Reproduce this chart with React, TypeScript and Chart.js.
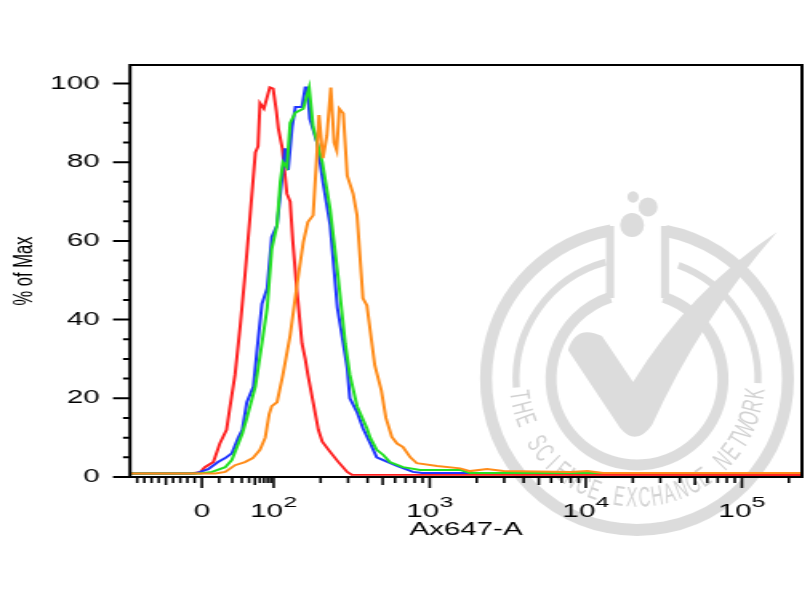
import { useEffect, useRef } from "react";
import { Chart, registerables } from "chart.js";
import type { Plugin } from "chart.js";

Chart.register(...registerables);

// The exported plot is stretched sideways: draw on a narrow canvas and let CSS widen it
const CANVAS_W = 506;
const CANVAS_H = 610;
const STRETCH = 810 / CANVAS_W;

// Logicle-like display transform of the Ax647-A axis (histogram is binned in 1024 channels)
const LIN_DECADES = 0.46; // width of the 0..100 segment, in decades
const LOG_DECADES = 3.385; // decades shown above 100
const ASINH_C = 15;
const CHANNELS = 1024;

function logicle(v: number) {
  if (v < 0) return (LIN_DECADES * v) / 100;
  if (v <= 100) return (LIN_DECADES * Math.asinh(v / ASINH_C)) / Math.asinh(100 / ASINH_C);
  return LIN_DECADES + Math.log10(v / 100);
}

function toChannel(v: number) {
  return ((logicle(v) + LIN_DECADES) / (2 * LIN_DECADES + LOG_DECADES)) * CHANNELS;
}

// Histogram data: channel position and % of max, one pair of arrays per sample
const redChannel = [0, 91, 107, 114, 127, 137, 147, 152, 160, 168, 175, 183, 191, 195, 198, 204, 213, 218, 223, 226, 232, 239, 244, 248, 254, 262, 267, 271, 279, 287, 293, 305, 317, 331, 338, 1024];
const redPct = [0.9, 0.9, 1.2, 2.5, 3.8, 8.6, 12, 17.5, 26, 38.6, 51, 66.5, 82.5, 84, 95, 93.6, 99, 98.7, 93, 88.6, 83.5, 72, 70, 60, 48, 34, 30, 26, 19, 12, 9, 6.4, 3.9, 1.3, 0.6, 0.5];

const blueChannel = [0, 99, 107, 119, 134, 145, 155, 165, 171, 178, 188, 194, 201, 209, 216, 224, 232, 236, 241, 247, 252, 262, 267, 270, 274, 285, 294, 305, 316, 323, 331, 335, 346, 355, 366, 376, 386, 407, 431, 445, 1024];
const bluePct = [0.9, 0.9, 1.3, 2, 3.8, 4.8, 6, 10, 12, 19, 23, 33, 44, 48, 61, 64, 76.6, 83.5, 78, 89, 94, 94, 99, 99, 91, 85, 75, 64, 43, 36, 27.7, 20, 16.5, 12.4, 8.6, 5, 4.3, 2.8, 1.3, 1, 1];

const greenChannel = [0, 107, 125, 145, 155, 163, 171, 178, 191, 201, 209, 216, 224, 229, 233, 239, 244, 252, 264, 273, 279, 293, 305, 317, 328, 335, 346, 361, 366, 376, 386, 396, 416, 442, 503, 518, 1024];
const greenPct = [0.9, 0.9, 1.3, 2.5, 4.3, 7.6, 11, 15, 23, 34, 43, 58, 64, 75, 80, 78.7, 90, 92.6, 93.6, 99, 89, 80, 68, 51, 34, 26, 18, 12.4, 10, 6.9, 5.6, 3.8, 2.5, 1.8, 1.8, 1, 1];

const orangeChannel = [0, 130, 145, 160, 175, 187, 198, 206, 212, 216, 224, 233, 244, 255, 264, 271, 279, 284, 288, 294, 300, 306, 311, 315, 319, 325, 331, 340, 346, 355, 361, 373, 383, 390, 399, 407, 416, 427, 437, 468, 503, 518, 544, 569, 671, 697, 721, 1024];
const orangePct = [0.9, 0.9, 1.3, 3, 3.8, 4.8, 6.9, 10, 16, 18, 19, 26, 36, 49.5, 59.6, 64.8, 66.5, 80, 92, 81, 86.8, 99, 85, 83, 93.6, 92.4, 76.6, 72, 66.5, 45.4, 43.6, 28.4, 22, 15, 10.2, 8.5, 7.6, 5, 3.5, 2.8, 2.2, 1.5, 2, 1.5, 1.3, 1.5, 1, 1];

// Axis ticks
const xLabelValues = [0, 100, 1000, 10000, 100000];
const xLabelExponents = ["", "2", "3", "4", "5"];
const yMax = 104.7;

const xMinorTicks: number[] = [];
for (let k = 1; k <= 9; k++) xMinorTicks.push(-10 * k, 10 * k);
for (const d of [100, 1000, 10000, 100000]) {
  for (let k = 2; k <= 9; k++) if (d * k < 240000) xMinorTicks.push(d * k);
}

const FONT = '"Liberation Sans", Arial, sans-serif';

function drawWatermark(ctx: CanvasRenderingContext2D) {
  const rad = (d: number) => (d * Math.PI) / 180;
  const cx = 637;
  const cy = 379;
  ctx.save();
  ctx.scale(1 / STRETCH, 1); // logo was stamped on after the stretch, so undo it
  ctx.strokeStyle = "#dcdcdc";
  ctx.fillStyle = "#dcdcdc";

  ctx.lineWidth = 12;
  ctx.beginPath();
  ctx.arc(cx, cy, 151, rad(-79), rad(260));
  ctx.stroke();

  ctx.lineWidth = 11;
  ctx.beginPath();
  ctx.arc(cx, cy, 86, rad(-72), rad(252));
  ctx.stroke();

  ctx.lineWidth = 8;
  ctx.beginPath();
  ctx.moveTo(610, 226);
  ctx.lineTo(610, 298);
  ctx.moveTo(665, 226);
  ctx.lineTo(665, 298);
  ctx.stroke();

  ctx.lineWidth = 7;
  ctx.beginPath();
  ctx.arc(cx, cy, 121, rad(176), rad(255));
  ctx.stroke();
  ctx.beginPath();
  ctx.arc(cx, cy, 121, rad(-70), rad(2));
  ctx.stroke();

  for (const [bx, by, br] of [[632, 225, 12], [648, 207, 9.5], [633, 197, 5.7]]) {
    ctx.beginPath();
    ctx.arc(bx, by, br, 0, Math.PI * 2);
    ctx.fill();
  }

  // check mark
  ctx.beginPath();
  ctx.moveTo(568, 350);
  ctx.quadraticCurveTo(576, 324, 602, 336);
  ctx.lineTo(633, 382);
  ctx.quadraticCurveTo(690, 290, 777, 232);
  ctx.quadraticCurveTo(700, 320, 652, 425);
  ctx.quadraticCurveTo(636, 447, 620, 428);
  ctx.closePath();
  ctx.fill();

  // ring text, tops of the letters toward the centre
  const text = "THE SCIENCE EXCHANGE NETWORK";
  ctx.fillStyle = "#d2d2d2";
  ctx.font = `28px ${FONT}`;
  ctx.textAlign = "center";
  ctx.textBaseline = "middle";
  const start = 172;
  const end = 7;
  for (let i = 0; i < text.length; i++) {
    const th = rad(start - (i * (start - end)) / (text.length - 1));
    ctx.save();
    ctx.translate(cx + 120 * Math.cos(th), cy + 120 * Math.sin(th));
    ctx.rotate(th - Math.PI / 2);
    ctx.scale(0.58, 1);
    ctx.fillText(text[i], 0, 0);
    ctx.restore();
  }
  ctx.restore();
}

const flowAxes: Plugin<"line"> = {
  id: "flowAxes",
  beforeDraw(chart) {
    drawWatermark(chart.ctx);
  },
  afterDraw(chart) {
    const { ctx, chartArea: a } = chart;
    const x = chart.scales.x;
    const y = chart.scales.y;
    ctx.save();
    ctx.strokeStyle = "#000";
    ctx.fillStyle = "#000";

    // frame
    ctx.lineWidth = 2;
    ctx.strokeRect(a.left, a.top, a.right - a.left, a.bottom - a.top);

    // y ticks, pointing outwards
    ctx.beginPath();
    for (const t of y.ticks) {
      const py = y.getPixelForValue(t.value);
      const len = (t.value % 20 === 0 ? 17 : 7) / STRETCH;
      ctx.moveTo(a.left - len, py);
      ctx.lineTo(a.left, py);
    }
    ctx.stroke();

    // x ticks
    ctx.lineWidth = 2.5 / STRETCH;
    ctx.beginPath();
    for (const v of xMinorTicks) {
      const px = x.getPixelForValue(toChannel(v));
      const lead = Math.abs(v) / Math.pow(10, Math.floor(Math.log10(Math.abs(v))));
      const len = Math.round(lead) === 5 ? 8 : 6;
      ctx.moveTo(px, a.bottom);
      ctx.lineTo(px, a.bottom + len);
    }
    for (const v of xLabelValues) {
      const px = x.getPixelForValue(toChannel(v));
      ctx.moveTo(px, a.bottom);
      ctx.lineTo(px, a.bottom + 11);
    }
    ctx.stroke();

    // x labels with superscript exponents
    ctx.textBaseline = "alphabetic";
    ctx.textAlign = "left";
    const baseFont = `18.5px ${FONT}`;
    const supFont = `15.5px ${FONT}`;
    xLabelValues.forEach((v, i) => {
      const px = x.getPixelForValue(toChannel(v));
      const exp = xLabelExponents[i];
      ctx.font = baseFont;
      if (!exp) {
        const w = ctx.measureText("0").width;
        ctx.fillText("0", px - w / 2, 517);
        return;
      }
      const wb = ctx.measureText("10").width;
      ctx.font = supFont;
      const ws = ctx.measureText(exp).width;
      const left = px - (wb + ws) / 2;
      ctx.font = baseFont;
      ctx.fillText("10", left, 517);
      ctx.font = supFont;
      ctx.fillText(exp, left + wb, 507);
    });
    ctx.restore();
  },
};

const toPoints = (ch: number[], pct: number[]) => ch.map((c, i) => ({ x: c, y: pct[i] }));

export default function App() {
  const canvasRef = useRef<HTMLCanvasElement>(null);
  const chartRef = useRef<Chart | null>(null);

  useEffect(() => {
    if (!canvasRef.current) return;
    if (chartRef.current) chartRef.current.destroy();

    const line = (label: string, data: { x: number; y: number }[], color: string) => ({
      label,
      data,
      borderColor: color,
      backgroundColor: color,
      borderWidth: 2,
      pointRadius: 0,
      tension: 0,
      fill: false,
    });

    chartRef.current = new Chart(canvasRef.current, {
      type: "line",
      data: {
        // first dataset is drawn on top
        datasets: [
          line("Orange", toPoints(orangeChannel, orangePct), "#ff8c1a"),
          line("Green", toPoints(greenChannel, greenPct), "#22e022"),
          line("Blue", toPoints(blueChannel, bluePct), "#2035ff"),
          line("Red", toPoints(redChannel, redPct), "#ff2222"),
        ],
      },
      options: {
        responsive: false,
        animation: false,
        devicePixelRatio: 1,
        layout: { padding: { top: 65, right: 5, bottom: 0, left: 0 } },
        plugins: {
          legend: { display: false },
          tooltip: { enabled: false },
        },
        scales: {
          x: {
            type: "linear",
            min: 0,
            max: CHANNELS,
            grid: { display: false, drawTicks: false },
            border: { display: false },
            ticks: { display: false },
            title: {
              display: true,
              text: "Ax647-A",
              color: "#000",
              font: { family: FONT, size: 18.5 },
              padding: { top: 0, bottom: 69 },
            },
            afterFit(scale) {
              scale.height = 133;
            },
          },
          y: {
            type: "linear",
            min: 0,
            max: yMax,
            grid: { display: false, drawTicks: false },
            border: { display: false },
            ticks: {
              stepSize: 5,
              includeBounds: false,
              autoSkip: false,
              padding: 19,
              color: "#000",
              font: { family: FONT, size: 18.5 },
              callback: (v) => (Number(v) % 20 === 0 ? String(v) : ""),
            },
            title: {
              display: true,
              text: "% of Max",
              color: "#000",
              font: { family: FONT, size: 16.5 },
              padding: { top: 6, bottom: 0 },
            },
            afterFit(scale) {
              scale.width = 130 / STRETCH;
            },
          },
        },
      },
      plugins: [flowAxes],
    });

    return () => {
      if (chartRef.current) {
        chartRef.current.destroy();
        chartRef.current = null;
      }
    };
  }, []);

  return (
    <div style={{ position: "fixed", left: 0, top: 0, width: 810, height: 610, background: "#fff" }}>
      <canvas
        ref={canvasRef}
        width={CANVAS_W}
        height={CANVAS_H}
        style={{ width: 810, height: 610, display: "block" }}
      />
    </div>
  );
}
